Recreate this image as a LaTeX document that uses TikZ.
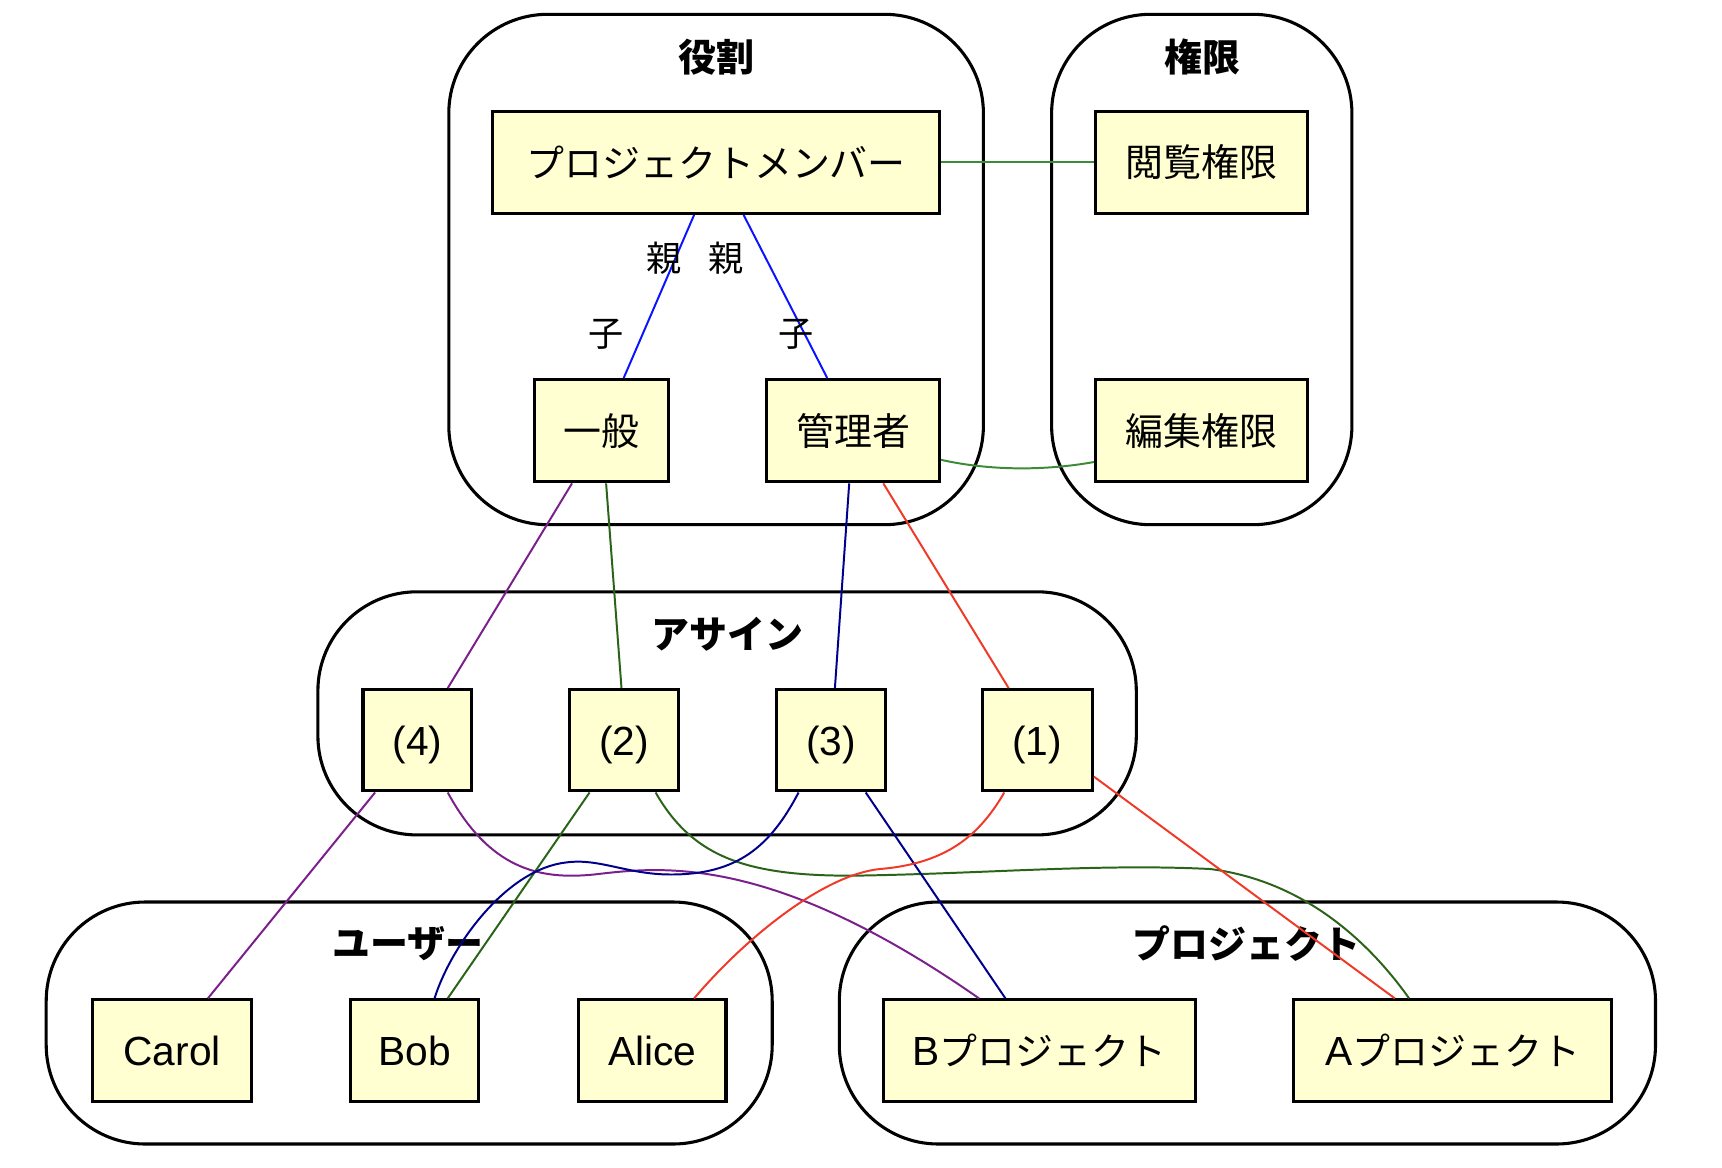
\documentclass[tikz,border=0pt]{standalone}
\usepackage{fontspec}
\setmainfont{Liberation Sans}
\newfontfamily\cjk{Noto Sans CJK JP}
\definecolor{nfill}{HTML}{FFFFD2}
\definecolor{pcblue}{HTML}{0A14FF}
\definecolor{pgreen}{HTML}{3D8B37}
\definecolor{dgreen}{HTML}{2B6318}
\definecolor{pur}{HTML}{7B1F8C}
\definecolor{nav}{HTML}{00008B}
\definecolor{rd}{HTML}{F03A28}
\tikzset{
  ebox/.style={draw=black, line width=2.8pt, fill=nfill, inner sep=0pt, minimum height=93pt,
    font=\fontsize{34.5}{40}\selectfont\cjk},
  lbox/.style={ebox, font=\fontsize{37}{42}\selectfont},
  pbox/.style={lbox, minimum height=92pt, text depth=0pt},
  grp/.style={draw=black, line width=2.8pt, rounded corners=90pt, inner sep=0pt},
  ttl/.style={font=\fontsize{34.5}{40}\selectfont\cjk\bfseries, inner sep=0pt},
  lab/.style={font=\fontsize{32}{36}\selectfont\cjk, inner sep=0pt, text=black},
  edge/.style={line width=1.8pt},
}
\begin{document}
\begin{tikzpicture}[x=1pt,y=-1pt]
\useasboundingbox (0,0) rectangle (1565.45,1061.8);
% clusters
\node[grp, minimum width=486pt, minimum height=464pt] (roles) at (651,245) {};
\node[grp, minimum width=273pt, minimum height=464pt] (perms) at (1092.5,245) {};
\node[grp, minimum width=744pt, minimum height=221pt] (assign) at (661,648.5) {};
\node[grp, minimum width=660pt, minimum height=220pt] (users) at (372,930) {};
\node[grp, minimum width=742pt, minimum height=220pt] (projs) at (1134,930) {};
% titles
\node[ttl] (troles) at (651,52) {役割};
\node[ttl] (tperms) at (1093,52) {権限};
\node[ttl] (tassign) at (661,577) {アサイン};
\node[ttl] (tusers) at (371,858) {ユーザー};
\node[ttl] (tprojs) at (1133,858) {プロジェクト};
% nodes
\node[ebox, minimum width=406pt] (pm) at (651,147.5) {プロジェクトメンバー};
\node[ebox, minimum width=193pt] (view) at (1092.5,147.5) {閲覧権限};
\node[ebox, minimum width=122pt] (ippan) at (547,391.5) {一般};
\node[ebox, minimum width=157pt] (kanri) at (775.5,391.5) {管理者};
\node[ebox, minimum width=193pt] (edit) at (1092.5,391.5) {編集権限};
\node[pbox, minimum width=99pt] (n4) at (379.5,673) {(4)};
\node[pbox, minimum width=99pt] (n2) at (567.5,673) {(2)};
\node[pbox, minimum width=99pt] (n3) at (755.5,673) {(3)};
\node[pbox, minimum width=100pt] (n1) at (943,673) {(1)};
\node[lbox, minimum width=145pt, minimum height=92pt] (carol) at (156.5,955) {Carol};
\node[lbox, minimum width=116pt, minimum height=92pt] (bob) at (377,955) {Bob};
\node[lbox, minimum width=134pt, minimum height=92pt] (alice) at (593,955) {Alice};
\node[lbox, minimum width=284pt, minimum height=92pt] (bproj) at (945,955) {B{\cjk\fontsize{34.5}{40}\selectfont プロジェクト}};
\node[lbox, minimum width=289pt, minimum height=92pt] (aproj) at (1320.5,955) {A{\cjk\fontsize{34.5}{40}\selectfont プロジェクト}};
% edges
\draw[edge, pgreen] (pm.east) -- (view.west);
\draw[edge, pgreen] (kanri.east |- 0,418) .. controls (900,428) and (950,428) .. (edit.west |- 0,420);
\draw[edge, pcblue] (pm.south -| 631,0) -- node[lab, pos=0.265, xshift=-10pt] {親} node[lab, pos=0.735, xshift=-33pt] {子} (ippan.north -| 567,0);
\draw[edge, pcblue] (pm.south -| 676,0) -- node[lab, pos=0.265, xshift=-36pt] {親} node[lab, pos=0.735, xshift=-8pt] {子} (kanri.north -| 752,0);
\draw[edge, pur] (ippan.south -| 520,0) -- (n4.north -| 407,0);
\draw[edge, dgreen] (ippan.south -| 551,0) -- (n2.north -| 565,0);
\draw[edge, nav] (kanri.south -| 772,0) -- (n3.north -| 759,0);
\draw[edge, rd] (kanri.south -| 803,0) -- (n1.north -| 917,0);
\draw[edge, pur] (n4.south -| 341,0) -- (carol.north -| 189,0);
\draw[edge, pur] (n4.south -| 407,0) .. controls (445,790) and (490,800) .. (540,795) .. controls (600,788) and (700,775) .. (bproj.north -| 890,0);
\draw[edge, dgreen] (n2.south -| 536,0) -- (bob.north -| 407,0);
\draw[edge, dgreen] (n2.south -| 596,0) .. controls (630,780) and (680,797) .. (780,796) .. controls (900,794) and (1000,785) .. (1100,790) .. controls (1180,800) and (1240,850) .. (aproj.north -| 1281,0);
\draw[edge, nav] (n3.south -| 726,0) .. controls (700,770) and (670,795) .. (610,795) .. controls (570,795) and (545,780) .. (515,784) .. controls (460,790) and (410,860) .. (bob.north -| 395,0);
\draw[edge, nav] (n3.south -| 787,0) -- (bproj.north -| 914,0);
\draw[edge, rd] (n1.south -| 913,0) .. controls (890,760) and (860,785) .. (800,790) .. controls (750,795) and (680,850) .. (alice.north -| 631,0);
\draw[edge, rd] (n1.east |- 0,706) -- (aproj.north -| 1268,0);
\end{tikzpicture}
\end{document}
